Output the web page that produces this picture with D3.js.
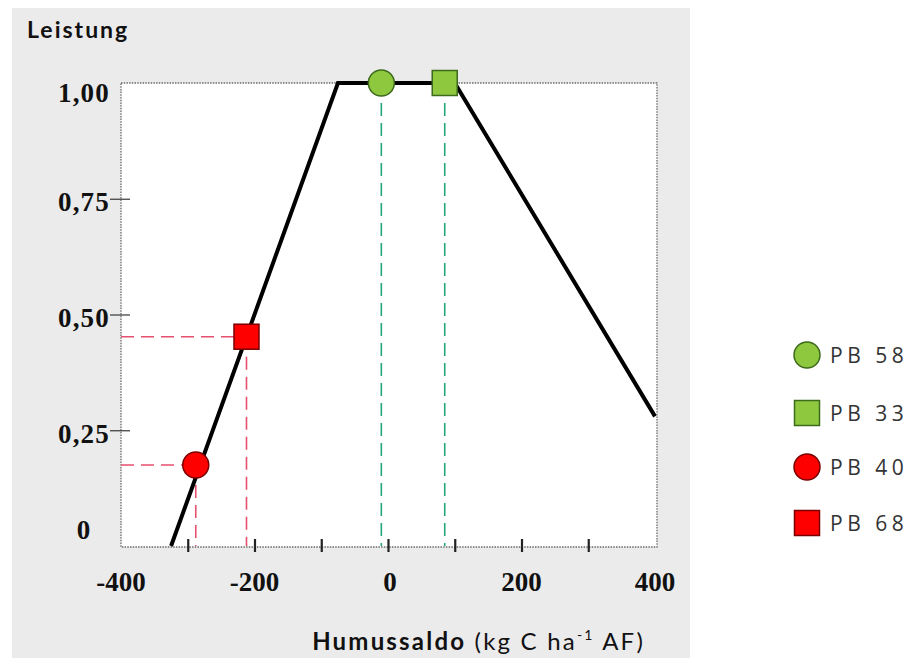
<!DOCTYPE html>
<html>
<head>
<meta charset="utf-8">
<script src="https://cdn.jsdelivr.net/npm/d3@7"></script>
<style>
  html, body { margin: 0; padding: 0; background: #ffffff; }
  svg { display: block; }
</style>
</head>
<body>
<svg id="chart" width="912" height="658"></svg>
<script>
// ---- data ----
const curveX = [-325, -75, 100, 400];
const curveY = [0, 1, 1, 0.28];

const pointNames  = ["PB 58", "PB 33", "PB 40", "PB 68"];
const pointX      = [-10, 85, -288, -212];
const pointY      = [1.0, 1.0, 0.175, 0.452];
const pointShape  = ["circle", "square", "circle", "square"];
const pointGroup  = ["green", "green", "red", "red"];

const xTickValues  = [-300, -200, -100, 0, 100, 200, 300];
const xLabelValues = [-400, -200, 0, 200, 400];
const yTickValues  = [0.25, 0.5, 0.75];
const yLabelValues = [0, 0.25, 0.5, 0.75, 1];
const yLabelTexts  = ["0", "0,25", "0,50", "0,75", "1,00"];

const yTitle = "Leistung";
const xTitleBold = "Humussaldo";

// ---- styles ----
const fills   = { green: "#8dc83f", red: "#ff0000" };
const strokes = { green: "#3e6a1c", red: "#7a0000" };
const dashCol = { green: "#23a77a", red: "#e6506e" };

const svg = d3.select("#chart");

// background panel
svg.append("rect").attr("x", 12).attr("y", 8).attr("width", 678).attr("height", 650)
  .attr("fill", "#ebebeb");

const L = 121, R = 655, T = 83, B = 546;
const x = d3.scaleLinear().domain([-400, 400]).range([L, R]);
const y = d3.scaleLinear().domain([0, 1]).range([B, T]);

// plot area
svg.append("rect").attr("x", L).attr("y", T).attr("width", R - L + 2).attr("height", B - T + 1)
  .attr("fill", "#ffffff").attr("stroke", "#6a6a6a").attr("stroke-width", 1.3)
  .attr("stroke-dasharray", "1.5,1.2");

// y ticks
const yAxis = svg.append("g").attr("transform", `translate(${L},0)`)
  .call(d3.axisLeft(y).tickValues(yTickValues).tickSize(11).tickFormat(""));
yAxis.select(".domain").remove();
yAxis.selectAll(".tick line").attr("stroke", "#444").attr("stroke-width", 1.3).attr("x2", -11).attr("x1", 9);

// y labels
svg.append("g").selectAll("text").data(yLabelValues).join("text")
  .attr("x", (d) => d === 0 ? 84 : 110)
  .attr("y", (d) => y(d) + (d === 1 ? 10 : d === 0 ? -16 : 3))
  .attr("dy", "0.35em")
  .attr("text-anchor", (d) => d === 0 ? "middle" : "end")
  .attr("font-family", "Liberation Serif, serif").attr("font-weight", "bold")
  .attr("font-size", 27).attr("letter-spacing", 1.2).attr("fill", "#111")
  .text((d, i) => yLabelTexts[i]);

// x ticks
const xAxis = svg.append("g").attr("transform", `translate(0,${B})`)
  .call(d3.axisBottom(x).tickValues(xTickValues).tickSize(6).tickFormat(""));
xAxis.select(".domain").remove();
xAxis.selectAll(".tick line").attr("stroke", "#222").attr("stroke-width", 2.2).attr("y1", -7).attr("y2", 6);

// x labels
svg.append("g").selectAll("text").data(xLabelValues).join("text")
  .attr("x", (d) => x(d) + (d === 0 ? 2 : 0))
  .attr("y", 582).attr("dy", "0.35em").attr("text-anchor", "middle")
  .attr("font-family", "Liberation Serif, serif").attr("font-weight", "bold")
  .attr("font-size", 27).attr("fill", "#111")
  .text((d) => d);

// titles
svg.append("text").attr("x", 27).attr("y", 38)
  .attr("font-family", "Lato, sans-serif").attr("font-weight", "bold")
  .attr("font-size", 23).attr("letter-spacing", 2).attr("fill", "#111").text(yTitle);

const xt = svg.append("text").attr("x", 645).attr("y", 650).attr("text-anchor", "end")
  .attr("font-family", "Lato, sans-serif").attr("font-size", 24).attr("fill", "#111")
  .attr("letter-spacing", 2.2);
xt.append("tspan").attr("font-weight", "bold").text(xTitleBold);
xt.append("tspan").text(" (kg C ha");
xt.append("tspan").attr("font-size", 14).attr("dy", -10).text("-1");
xt.append("tspan").attr("dy", 10).text(" AF)");

// dashed guide lines
const pts = pointNames.map((n, i) => ({ name: n, x: pointX[i], y: pointY[i], shape: pointShape[i], g: pointGroup[i] }));
const guides = svg.append("g");
pts.forEach((p) => {
  guides.append("line").attr("x1", x(p.x)).attr("x2", x(p.x)).attr("y1", y(p.y)).attr("y2", B)
    .attr("stroke", dashCol[p.g]).attr("stroke-width", 1.6).attr("stroke-dasharray", "13,7");
  if (p.y < 1) {
    guides.append("line").attr("x1", L).attr("x2", x(p.x)).attr("y1", y(p.y)).attr("y2", y(p.y))
      .attr("stroke", dashCol[p.g]).attr("stroke-width", 1.6).attr("stroke-dasharray", "13,7");
  }
});

// curve
const lineGen = d3.line().x((d) => x(d[0])).y((d) => y(d[1]));
svg.append("path").datum(curveX.map((v, i) => [v, curveY[i]]))
  .attr("d", lineGen).attr("fill", "none").attr("stroke", "#000").attr("stroke-width", 4)
  .attr("stroke-linejoin", "miter");

// markers
function drawMarker(g, shape, cx, cy, grp) {
  if (shape === "circle") {
    g.append("circle").attr("cx", cx).attr("cy", cy).attr("r", 13)
      .attr("fill", fills[grp]).attr("stroke", strokes[grp]).attr("stroke-width", 1.5);
  } else {
    g.append("rect").attr("x", cx - 12.5).attr("y", cy - 12.5).attr("width", 25).attr("height", 25)
      .attr("fill", fills[grp]).attr("stroke", strokes[grp]).attr("stroke-width", 1.5);
  }
}
const mg = svg.append("g");
pts.forEach((p) => drawMarker(mg, p.shape, x(p.x), y(p.y), p.g));

// legend
const legendY = [355, 413, 467, 523];
const lg = svg.append("g");
pts.forEach((p, i) => {
  drawMarker(lg, p.shape, 807, legendY[i], p.g);
  lg.append("text").attr("x", 830).attr("y", legendY[i]).attr("dy", "0.36em")
    .attr("font-family", "Open Sans, sans-serif").attr("font-size", 21)
    .attr("letter-spacing", 4.5).attr("fill", "#333").text(p.name);
});
</script>
</body>
</html>
